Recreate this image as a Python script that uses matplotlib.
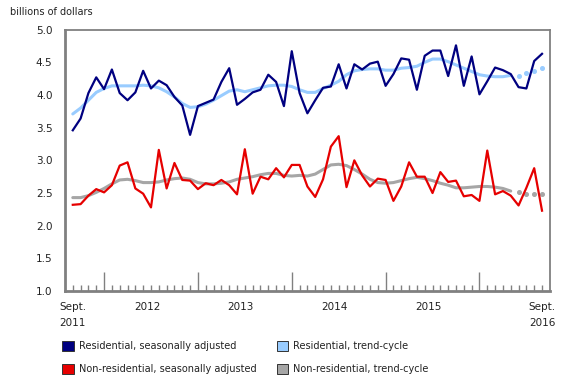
import numpy as np
import matplotlib
matplotlib.use('Agg')
import matplotlib.pyplot as plt
from matplotlib.patches import Patch
from matplotlib.transforms import blended_transform_factory

# monthly values, Sept. 2011 to Sept. 2016, billions of dollars
res_sa = [3.46, 3.64, 4.03, 4.27, 4.09, 4.39, 4.03, 3.92, 4.04, 4.37,
          4.10, 4.22, 4.15, 3.97, 3.84, 3.39, 3.83, 3.88, 3.93, 4.20,
          4.41, 3.85, 3.94, 4.04, 4.08, 4.31, 4.20, 3.83, 4.67, 4.03,
          3.72, 3.92, 4.11, 4.13, 4.47, 4.10, 4.47, 4.39, 4.48, 4.51,
          4.14, 4.32, 4.56, 4.54, 4.08, 4.60, 4.68, 4.68, 4.29, 4.76,
          4.14, 4.59, 4.01, 4.21, 4.42, 4.38, 4.32, 4.12, 4.10, 4.52,
          4.63]
res_trend = [3.71, 3.80, 3.92, 4.04, 4.10, 4.14, 4.14, 4.14, 4.14, 4.15,
             4.14, 4.11, 4.05, 3.97, 3.87, 3.81, 3.82, 3.86, 3.92, 3.99,
             4.06, 4.08, 4.05, 4.08, 4.11, 4.14, 4.15, 4.15, 4.13, 4.08,
             4.04, 4.04, 4.10, 4.15, 4.21, 4.31, 4.37, 4.39, 4.40, 4.40,
             4.38, 4.38, 4.41, 4.42, 4.44, 4.50, 4.55, 4.55, 4.51, 4.46,
             4.41, 4.36, 4.31, 4.29, 4.28, 4.28, 4.30, 4.29, 4.33, 4.37,
             4.42]
nonres_sa = [2.32, 2.33, 2.46, 2.56, 2.51, 2.62, 2.92, 2.97, 2.57, 2.49,
             2.28, 3.16, 2.57, 2.96, 2.70, 2.69, 2.56, 2.65, 2.62, 2.70,
             2.62, 2.48, 3.17, 2.49, 2.75, 2.71, 2.88, 2.74, 2.93, 2.93,
             2.60, 2.44, 2.71, 3.21, 3.37, 2.59, 3.00, 2.77, 2.60, 2.72,
             2.70, 2.38, 2.60, 2.97, 2.75, 2.75, 2.50, 2.82, 2.67, 2.69,
             2.45, 2.47, 2.38, 3.15, 2.48, 2.53, 2.46, 2.31, 2.58, 2.88,
             2.23]
nonres_trend = [2.43, 2.43, 2.46, 2.51, 2.57, 2.64, 2.70, 2.71, 2.69, 2.66,
                2.66, 2.67, 2.70, 2.72, 2.73, 2.71, 2.66, 2.64, 2.64, 2.65,
                2.67, 2.71, 2.73, 2.75, 2.78, 2.80, 2.80, 2.77, 2.76, 2.77,
                2.76, 2.79, 2.86, 2.93, 2.94, 2.92, 2.86, 2.79, 2.71, 2.66,
                2.65, 2.66, 2.69, 2.72, 2.74, 2.72, 2.69, 2.65, 2.62, 2.58,
                2.58, 2.59, 2.60, 2.60, 2.59, 2.57, 2.53, 2.51, 2.49, 2.49,
                2.49]
n_solid_trend = 57  # last 4 trend months shown as dots

x_labels = ['Sept.\n2011', '2012', '2013', '2014', '2015', 'Sept.\n2016']
x_label_pos = [0, 9.5, 21.5, 33.5, 45.5, 60]
jan_pos = [4, 16, 28, 40, 52]

navy = '#000080'
lightblue = '#99ccff'
red = '#e60000'
grey = '#a6a6a6'
spine_col = '#808080'

months = np.arange(len(res_sa))

fig = plt.figure(figsize=(5.8, 3.85), dpi=100)
ax = fig.add_axes([0.112, 0.244, 0.836, 0.679])

k = n_solid_trend
ax.plot(months[:k], res_trend[:k], color=lightblue, lw=2.2, solid_capstyle='round')
ax.plot(months[k:], res_trend[k:], ls='none', marker='o', ms=2.6, color=lightblue)
ax.plot(months[:k], nonres_trend[:k], color=grey, lw=2.2, solid_capstyle='round')
ax.plot(months[k:], nonres_trend[k:], ls='none', marker='o', ms=2.6, color=grey)
ax.plot(months, res_sa, color=navy, lw=1.6)
ax.plot(months, nonres_sa, color=red, lw=1.6)

ax.set_xlim(-1, 61)
ax.set_ylim(1.0, 5.0)
ax.set_yticks(np.arange(1.0, 5.01, 0.5))
ax.set_yticklabels(['%.1f' % v for v in np.arange(1.0, 5.01, 0.5)])
ax.tick_params(axis='y', length=0, pad=9, labelsize=7.5, labelcolor='#222222')

ax.set_xticks(jan_pos)
ax.set_xticklabels([])
ax.set_xticks(months, minor=True)
ax.tick_params(axis='x', which='major', direction='in', length=14, width=1, color=spine_col)
ax.tick_params(axis='x', which='minor', direction='in', length=4.5, width=1, color=spine_col)

for s in ax.spines.values():
    s.set_color(spine_col)
    s.set_linewidth(1.3)
ax.spines['left'].set_linewidth(2)
ax.spines['bottom'].set_linewidth(2)

trans = blended_transform_factory(ax.transData, ax.transAxes)
for pos, lab in zip(x_label_pos, x_labels):
    ax.text(pos, -0.04, lab, transform=trans, ha='center', va='top',
            fontsize=7.5, linespacing=1.75, color='#222222')

fig.text(0.017, 0.982, 'billions of dollars', ha='left', va='top', fontsize=7, color='#222222')

handles = [Patch(facecolor=navy, edgecolor='#333333', lw=0.7),
           Patch(facecolor=red, edgecolor='#333333', lw=0.7),
           Patch(facecolor=lightblue, edgecolor='#333333', lw=0.7),
           Patch(facecolor=grey, edgecolor='#333333', lw=0.7)]
labels = ['Residential, seasonally adjusted', 'Non-residential, seasonally adjusted',
          'Residential, trend-cycle', 'Non-residential, trend-cycle']
fig.legend(handles, labels, ncol=2, loc='upper left', bbox_to_anchor=(0.107, 0.115),
           frameon=False, fontsize=7, handlelength=1.2, handleheight=1.2,
           handletextpad=0.5, columnspacing=2.1, labelspacing=1.3,
           borderaxespad=0, borderpad=0, labelcolor='#222222')

plt.savefig('out.png', dpi=100)
